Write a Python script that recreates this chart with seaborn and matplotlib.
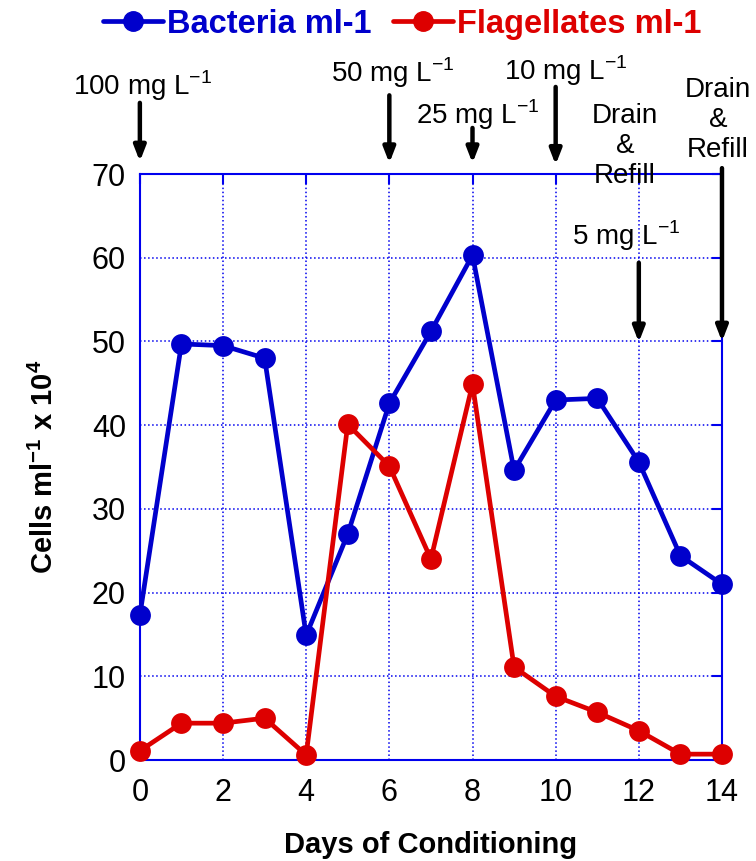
import numpy as np
import pandas as pd
import seaborn as sns
import matplotlib.pyplot as plt
from matplotlib.lines import Line2D

# --- dados ---
days = list(range(15))
bacteria = [17.3, 49.7, 49.5, 48.0, 14.9, 27.0, 42.6, 51.2, 60.3, 34.6, 43.0, 43.2, 35.6, 24.4, 21.0]
flagellates = [1.1, 4.4, 4.4, 5.0, 0.6, 40.1, 35.1, 24.0, 44.9, 11.1, 7.6, 5.7, 3.5, 0.7, 0.7]
series_names = ['Bacteria ml-1', 'Flagellates ml-1']
series_colors = ['#0000CC', '#DD0000']

# anotacoes (dia, texto)
dose_days = [0, 6, 8, 10, 12]
dose_labels = ['100 mg L$^{-1}$', '50 mg L$^{-1}$', '25 mg L$^{-1}$', '10 mg L$^{-1}$', '5 mg L$^{-1}$']
drain_days = [12, 14]

df = pd.DataFrame({
    'day': days * 2,
    'cells': bacteria + flagellates,
    'series': [series_names[0]] * len(days) + [series_names[1]] * len(days),
})

sns.set_style('white')
plt.rcParams['font.family'] = ['Liberation Sans', 'DejaVu Sans']
plt.rcParams['mathtext.fontset'] = 'custom'
plt.rcParams['mathtext.rm'] = 'Liberation Sans'
plt.rcParams['mathtext.bf'] = 'Liberation Sans:bold'
plt.rcParams['text.color'] = 'black'
plt.rcParams['axes.labelcolor'] = 'black'
plt.rcParams['xtick.labelcolor'] = 'black'
plt.rcParams['ytick.labelcolor'] = 'black'

fig = plt.figure(figsize=(7.56, 8.61), dpi=100)
ax = fig.add_axes([0.185, 0.1173, 0.77, 0.6806])

palette = dict(zip(series_names, series_colors))
sns.lineplot(data=df, x='day', y='cells', hue='series', palette=palette,
             marker='o', markersize=15, markeredgewidth=0, linewidth=3.4,
             legend=False, ax=ax, clip_on=False, zorder=5)

ax.set_xlim(0, 14)
ax.set_ylim(0, 70)
ax.set_xticks(range(0, 15, 2))
ax.set_yticks(range(0, 71, 10))
ax.grid(True, color='#0000EE', linestyle=':', linewidth=1.1)
for s in ax.spines.values():
    s.set_color('#0000EE')
    s.set_linewidth(1.5)
ax.tick_params(direction='in', length=7, width=1.5, color='#0000EE',
               top=True, right=True, labelsize=22)
ax.tick_params(axis='x', pad=13)
ax.tick_params(axis='y', pad=10)

ax.set_xlabel('Days of Conditioning', fontsize=21, fontweight='bold')
ax.set_ylabel(r'Cells ml$^{\mathbf{-1}}$ x 10$^{\mathbf{4}}$', fontsize=21, fontweight='bold')
ax.xaxis.set_label_coords(0.5, -0.122)
ax.yaxis.set_label_coords(-0.139, 0.5)

# setas de dose
arrow_kw = dict(arrowstyle='-|>,head_length=0.9,head_width=0.35', color='black', lw=3.2,
                shrinkA=0, shrinkB=0)
dose_text_x = [0.07, 6.08, 8.14, 10.25, 11.69]
dose_text_y = [79.4, 81.0, 76.0, 81.2, 61.5]
dose_tail = [78.5, 79.4, 75.5, 80.4, 59.4]
dose_head = [71.5, 71.3, 71.3, 71.1, 49.9]
for d, lab, tx, ty, t0, t1 in zip(dose_days, dose_labels, dose_text_x, dose_text_y, dose_tail, dose_head):
    ax.annotate('', xy=(d, t1), xytext=(d, t0), arrowprops=arrow_kw, annotation_clip=False)
    ax.text(tx, ty, lab, ha='center', va='baseline', fontsize=20, clip_on=False)

drain_text_x = [11.67, 13.9]
drain_text_y = [73.4, 76.5]
ax.annotate('', xy=(14, 50.0), xytext=(14, 70.7), arrowprops=arrow_kw, annotation_clip=False)
for tx, ty in zip(drain_text_x, drain_text_y):
    ax.text(tx, ty, 'Drain\n&\nRefill', ha='center', va='center', fontsize=20,
            linespacing=1.2, clip_on=False)

# legenda no topo
handles = [Line2D([], [], color=c, marker='o', markersize=14, lw=3.4) for c in series_colors]
leg = fig.legend(handles, series_names, loc='center', bbox_to_anchor=(0.532, 0.972), ncol=2,
                 frameon=False, handlelength=1.85, handletextpad=0.12, columnspacing=0.65,
                 prop={'weight': 'bold', 'size': 23.5})
for t, c in zip(leg.get_texts(), series_colors):
    t.set_color(c)

fig.savefig('out.png', dpi=100)
